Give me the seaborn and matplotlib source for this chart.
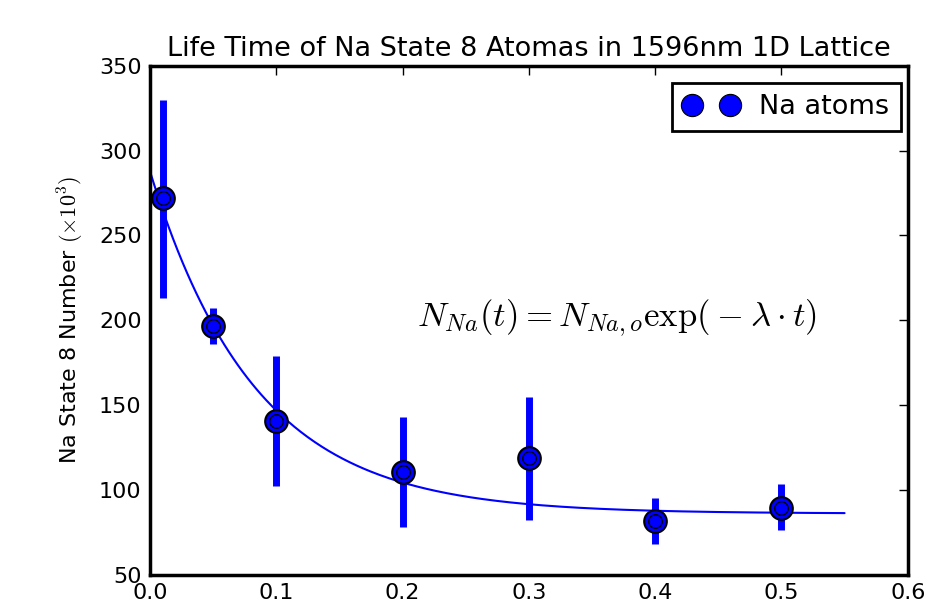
import numpy as np
import pandas as pd
import seaborn as sns
import matplotlib
matplotlib.use("Agg")
import matplotlib.pyplot as plt
from matplotlib.lines import Line2D

# measured decay data (x1000 atoms)
hold_time = [0.01, 0.05, 0.1, 0.2, 0.3, 0.4, 0.5]
na_number = [272, 196.5, 140.5, 110.5, 118.5, 81.5, 89.5]
err_low = [213, 186, 102, 78, 82, 68, 76.5]
err_high = [330, 207, 179, 143, 155, 95, 103.5]

# exponential fit: C + A*exp(-lam*t)
fit_amp = 202.0
fit_lam = 12.0
fit_offset = 86.0
fit_tmax = 0.55

sns.set_style("white")
plt.rcParams["font.family"] = ["DejaVu Sans"]
plt.rcParams["mathtext.fontset"] = "cm"
plt.rcParams["text.color"] = "black"
plt.rcParams["axes.labelcolor"] = "black"
plt.rcParams["xtick.color"] = "black"
plt.rcParams["ytick.color"] = "black"

df = pd.DataFrame({"t": hold_time, "N": na_number})
t_fit = np.linspace(0, fit_tmax, 300)
fit_df = pd.DataFrame({"t": t_fit, "N": fit_offset + fit_amp * np.exp(-fit_lam * t_fit)})

fig, ax = plt.subplots(figsize=(9.31, 6.10), dpi=100)
fig.subplots_adjust(left=0.161, right=0.975, top=0.892, bottom=0.058)

sns.lineplot(data=fit_df, x="t", y="N", color="blue", lw=1.5, ax=ax, zorder=2)
ax.vlines(hold_time, err_low, err_high, color="blue", lw=5, zorder=3)
sns.scatterplot(data=df, x="t", y="N", s=265, color="blue", edgecolor="black",
                linewidth=1.5, ax=ax, zorder=4)
sns.scatterplot(data=df, x="t", y="N", s=95, color="blue", edgecolor="black",
                linewidth=1.0, ax=ax, zorder=5)

ax.text(0.37, 201, r"$N_{Na}(t) = N_{Na,o}\exp(\:-\:\lambda\cdot t)$", fontsize=25,
        ha="center", va="center")

ax.set_xlim(0, 0.6)
ax.set_ylim(50, 350)
ax.set_xticks(np.arange(0, 0.61, 0.1))
ax.set_yticks(np.arange(50, 351, 50))
ax.set_xlabel("")
ax.set_ylabel(r"Na State 8 Number $(\times10^3)$", fontsize=16, labelpad=9)
ax.set_title("Life Time of Na State 8 Atomas in 1596nm 1D Lattice", fontsize=19.5, pad=7)
ax.tick_params(direction="in", length=6.5, width=1, top=True, right=True,
               labelsize=16, pad=6)
for sp in ax.spines.values():
    sp.set_color("black")
    sp.set_linewidth(2.5)

handle = Line2D([], [], ls="none", marker="o", ms=16, color="blue",
                markeredgecolor="black", markeredgewidth=0.8)
leg = ax.legend([handle], ["Na atoms"], loc="upper right", numpoints=2,
                bbox_to_anchor=(0.991, 0.967), borderaxespad=0,
                fontsize=19.5, fancybox=False, framealpha=1, borderpad=0.42,
                handlelength=2.0, handletextpad=0.8)
leg.get_frame().set_edgecolor("black")
leg.get_frame().set_linewidth(2)

fig.savefig("out.png", dpi=100)
